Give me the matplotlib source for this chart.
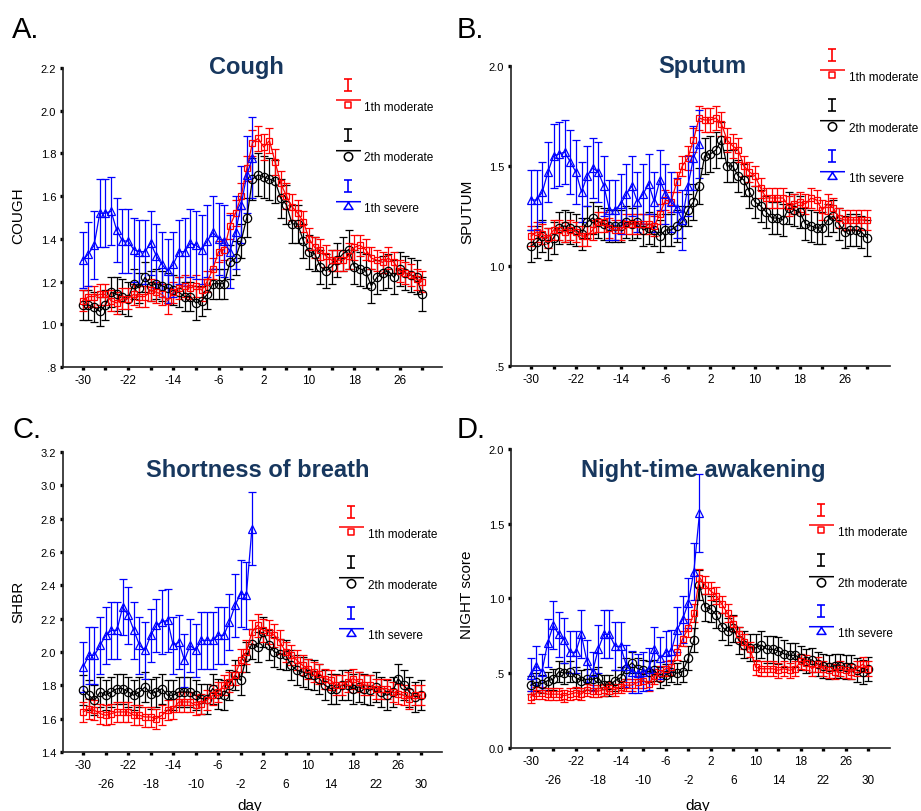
import numpy as np
import matplotlib
matplotlib.use('Agg')
import matplotlib.pyplot as plt
from matplotlib.path import Path

# Arial-metric font for everything
plt.rcParams['font.family'] = 'Liberation Sans'

# ---- data ----
days = np.arange(-30, 31)          # moderate groups, day -30..30
days_severe = np.arange(-30, 1)    # severe group, day -30..0

cough_red = [1.11, 1.13, 1.13, 1.14, 1.14, 1.11, 1.10, 1.12, 1.12, 1.14,
             1.13, 1.13, 1.16, 1.15, 1.14, 1.11, 1.15, 1.17, 1.18, 1.17,
             1.18, 1.16, 1.20, 1.26, 1.34, 1.35, 1.46, 1.52, 1.60, 1.73,
             1.85, 1.87, 1.83, 1.86, 1.76, 1.66, 1.60, 1.55, 1.52, 1.48,
             1.40, 1.36, 1.35, 1.32, 1.30, 1.30, 1.30, 1.32, 1.36, 1.37,
             1.35, 1.31, 1.30, 1.29, 1.31, 1.29, 1.25, 1.24, 1.23, 1.21,
             1.20]
cough_red_sd = [.05, .05, .05, .05, .05, .05, .05, .05, .05, .05,
                .05, .05, .05, .05, .05, .06, .05, .05, .05, .05,
                .05, .05, .05, .05, .05, .05, .06, .06, .06, .06,
                .06, .06, .06, .06, .06, .06, .06, .06, .06, .05,
                .05, .05, .05, .05, .05, .05, .05, .06, .06, .05,
                .05, .05, .05, .05, .05, .05, .05, .05, .05, .05,
                .05]
cough_black = [1.09, 1.09, 1.08, 1.06, 1.09, 1.15, 1.14, 1.13, 1.12, 1.19,
               1.17, 1.22, 1.18, 1.19, 1.18, 1.17, 1.16, 1.15, 1.13, 1.13,
               1.10, 1.11, 1.14, 1.19, 1.19, 1.19, 1.29, 1.31, 1.39, 1.50,
               1.68, 1.70, 1.69, 1.68, 1.67, 1.59, 1.56, 1.47, 1.47, 1.39,
               1.34, 1.33, 1.27, 1.25, 1.27, 1.30, 1.33, 1.35, 1.27, 1.26,
               1.25, 1.18, 1.22, 1.24, 1.25, 1.22, 1.26, 1.24, 1.23, 1.22,
               1.14]
cough_black_sd = [.07, .07, .07, .07, .07, .07, .08, .08, .08, .07,
                  .07, .07, .07, .07, .07, .07, .07, .07, .07, .07,
                  .08, .07, .07, .07, .07, .07, .08, .08, .08, .09,
                  .10, .10, .10, .10, .10, .09, .09, .09, .09, .08,
                  .08, .08, .08, .08, .08, .08, .08, .09, .08, .08,
                  .08, .08, .08, .08, .08, .08, .08, .08, .08, .08,
                  .08]
cough_blue = [1.30, 1.33, 1.37, 1.52, 1.52, 1.53, 1.44, 1.39, 1.39, 1.35,
              1.34, 1.34, 1.38, 1.32, 1.28, 1.25, 1.28, 1.34, 1.34, 1.38,
              1.37, 1.35, 1.39, 1.43, 1.40, 1.39, 1.34, 1.43, 1.56, 1.70,
              1.78]
cough_blue_sd = [.13, .15, .16, .16, .16, .16, .15, .15, .15, .15,
                 .15, .15, .15, .15, .15, .15, .15, .15, .16, .16,
                 .16, .16, .17, .17, .17, .17, .17, .17, .18, .18,
                 .19]

sputum_red = [1.15, 1.17, 1.16, 1.14, 1.18, 1.18, 1.17, 1.18, 1.17, 1.15,
              1.15, 1.18, 1.22, 1.22, 1.19, 1.18, 1.18, 1.21, 1.21, 1.21,
              1.21, 1.21, 1.20, 1.26, 1.33, 1.32, 1.42, 1.50, 1.54, 1.63,
              1.74, 1.73, 1.73, 1.74, 1.71, 1.63, 1.60, 1.58, 1.50, 1.47,
              1.45, 1.39, 1.34, 1.34, 1.34, 1.34, 1.30, 1.31, 1.32, 1.31,
              1.34, 1.33, 1.28, 1.31, 1.29, 1.24, 1.23, 1.23, 1.23, 1.23,
              1.23]
sputum_red_sd = [.05, .05, .05, .05, .05, .05, .05, .05, .05, .05,
                 .05, .05, .05, .05, .05, .05, .05, .05, .05, .05,
                 .05, .05, .05, .05, .05, .05, .05, .05, .06, .06,
                 .06, .06, .06, .06, .06, .06, .06, .06, .05, .05,
                 .05, .05, .05, .05, .05, .05, .05, .05, .05, .05,
                 .05, .05, .05, .05, .05, .05, .05, .05, .05, .05,
                 .05]
sputum_black = [1.10, 1.12, 1.15, 1.11, 1.14, 1.19, 1.20, 1.19, 1.18, 1.16,
                1.22, 1.24, 1.22, 1.21, 1.20, 1.20, 1.20, 1.22, 1.21, 1.22,
                1.18, 1.19, 1.18, 1.15, 1.18, 1.18, 1.20, 1.22, 1.28, 1.32,
                1.40, 1.55, 1.56, 1.58, 1.63, 1.50, 1.50, 1.45, 1.43, 1.37,
                1.32, 1.30, 1.27, 1.24, 1.24, 1.23, 1.29, 1.28, 1.27, 1.21,
                1.20, 1.19, 1.19, 1.23, 1.25, 1.21, 1.17, 1.18, 1.18, 1.17,
                1.14]
sputum_black_sd = [.08, .08, .08, .08, .08, .08, .08, .08, .08, .08,
                   .08, .08, .08, .08, .08, .08, .08, .08, .08, .08,
                   .08, .08, .08, .08, .08, .08, .08, .08, .08, .09,
                   .09, .09, .09, .09, .09, .08, .08, .08, .08, .08,
                   .08, .08, .08, .08, .08, .08, .08, .08, .08, .08,
                   .08, .08, .08, .08, .08, .08, .08, .08, .08, .08,
                   .09]
sputum_blue = [1.33, 1.33, 1.37, 1.47, 1.55, 1.56, 1.57, 1.52, 1.47, 1.37,
               1.45, 1.49, 1.47, 1.40, 1.28, 1.28, 1.31, 1.36, 1.40, 1.32,
               1.36, 1.41, 1.32, 1.43, 1.36, 1.32, 1.29, 1.23, 1.40, 1.54,
               1.61]
sputum_blue_sd = [.15, .15, .15, .15, .16, .16, .16, .16, .16, .15,
                  .15, .15, .15, .15, .15, .15, .15, .15, .15, .15,
                  .15, .15, .15, .15, .15, .15, .15, .15, .15, .16,
                  .17]

shbr_red = [1.64, 1.66, 1.65, 1.63, 1.62, 1.63, 1.64, 1.64, 1.64, 1.62,
            1.62, 1.61, 1.61, 1.60, 1.62, 1.65, 1.66, 1.70, 1.70, 1.70,
            1.68, 1.69, 1.71, 1.74, 1.76, 1.80, 1.82, 1.86, 1.95, 2.00,
            2.12, 2.16, 2.13, 2.12, 2.10, 2.06, 2.00, 1.98, 1.95, 1.92,
            1.90, 1.88, 1.87, 1.84, 1.83, 1.80, 1.80, 1.82, 1.84, 1.82,
            1.80, 1.80, 1.78, 1.78, 1.78, 1.76, 1.75, 1.74, 1.72, 1.74,
            1.74]
shbr_red_sd = [.06, .06, .06, .06, .06, .06, .06, .06, .06, .06,
               .06, .06, .06, .06, .06, .06, .06, .06, .06, .06,
               .06, .06, .06, .06, .06, .06, .06, .06, .07, .07,
               .07, .07, .07, .07, .07, .07, .06, .06, .06, .06,
               .06, .06, .06, .06, .06, .06, .06, .06, .06, .06,
               .06, .06, .06, .06, .06, .06, .06, .06, .06, .06,
               .06]
shbr_black = [1.77, 1.74, 1.71, 1.76, 1.74, 1.76, 1.78, 1.78, 1.76, 1.74,
              1.76, 1.79, 1.75, 1.76, 1.78, 1.74, 1.74, 1.76, 1.76, 1.76,
              1.74, 1.72, 1.72, 1.78, 1.75, 1.74, 1.80, 1.86, 1.83, 1.97,
              2.05, 2.03, 2.12, 2.04, 2.00, 1.99, 1.98, 1.92, 1.89, 1.88,
              1.87, 1.86, 1.84, 1.80, 1.78, 1.78, 1.80, 1.80, 1.78, 1.79,
              1.78, 1.77, 1.79, 1.76, 1.74, 1.76, 1.84, 1.80, 1.76, 1.73,
              1.74]
shbr_black_sd = [.09, .09, .09, .09, .09, .09, .09, .09, .09, .09,
                 .09, .09, .09, .09, .09, .09, .09, .09, .09, .09,
                 .09, .09, .09, .09, .09, .09, .09, .09, .09, .09,
                 .09, .09, .09, .09, .09, .09, .09, .09, .09, .09,
                 .09, .09, .09, .09, .09, .09, .09, .09, .09, .09,
                 .09, .09, .09, .09, .09, .09, .09, .09, .09, .09,
                 .09]
shbr_blue = [1.91, 1.98, 1.98, 2.04, 2.10, 2.13, 2.13, 2.27, 2.22, 2.13,
             2.04, 2.01, 2.10, 2.16, 2.18, 2.19, 2.04, 2.06, 1.95, 2.04,
             2.01, 2.07, 2.07, 2.07, 2.10, 2.10, 2.18, 2.28, 2.35, 2.34,
             2.74]
shbr_blue_sd = [.15, .17, .17, .17, .17, .17, .17, .17, .17, .17,
                .17, .17, .16, .16, .19, .19, .17, .16, .16, .16,
                .16, .17, .17, .17, .17, .17, .17, .19, .20, .20,
                .22]

night_red = [0.34, 0.37, 0.37, 0.36, 0.36, 0.36, 0.35, 0.36, 0.37, 0.36,
             0.39, 0.38, 0.38, 0.39, 0.40, 0.39, 0.41, 0.42, 0.42, 0.44,
             0.45, 0.43, 0.48, 0.50, 0.53, 0.54, 0.64, 0.73, 0.80, 0.90,
             1.14, 1.09, 1.05, 1.02, 0.96, 0.90, 0.83, 0.76, 0.71, 0.66,
             0.54, 0.53, 0.53, 0.53, 0.52, 0.53, 0.52, 0.53, 0.58, 0.57,
             0.53, 0.56, 0.53, 0.52, 0.51, 0.53, 0.52, 0.51, 0.53, 0.56,
             0.53]
night_red_sd = [.04, .04, .04, .04, .04, .04, .04, .04, .04, .04,
                .04, .04, .04, .04, .04, .04, .04, .04, .04, .04,
                .05, .05, .05, .05, .05, .05, .05, .05, .06, .06,
                .06, .06, .06, .06, .06, .06, .05, .05, .05, .05,
                .05, .05, .05, .05, .05, .05, .05, .05, .05, .05,
                .05, .05, .05, .05, .05, .05, .05, .05, .05, .05,
                .05]
night_black = [0.42, 0.44, 0.43, 0.45, 0.46, 0.51, 0.50, 0.51, 0.47, 0.45,
               0.46, 0.46, 0.47, 0.42, 0.42, 0.45, 0.47, 0.53, 0.57, 0.53,
               0.52, 0.51, 0.52, 0.47, 0.49, 0.51, 0.50, 0.51, 0.60, 0.72,
               1.09, 0.94, 0.93, 0.89, 0.81, 0.78, 0.80, 0.72, 0.69, 0.67,
               0.67, 0.69, 0.66, 0.66, 0.65, 0.63, 0.62, 0.62, 0.60, 0.58,
               0.59, 0.56, 0.55, 0.54, 0.55, 0.55, 0.54, 0.54, 0.52, 0.51,
               0.53]
night_black_sd = [.06, .06, .06, .06, .07, .07, .07, .07, .07, .07,
                  .07, .07, .07, .07, .07, .07, .07, .07, .07, .07,
                  .07, .07, .07, .07, .07, .07, .07, .07, .08, .08,
                  .10, .09, .09, .09, .09, .09, .09, .09, .09, .09,
                  .09, .09, .09, .09, .09, .09, .08, .08, .08, .08,
                  .08, .08, .08, .08, .08, .08, .08, .08, .08, .08,
                  .08]
night_blue = [0.49, 0.55, 0.51, 0.70, 0.82, 0.76, 0.72, 0.64, 0.64, 0.76,
              0.58, 0.51, 0.66, 0.76, 0.76, 0.68, 0.68, 0.55, 0.51, 0.50,
              0.51, 0.53, 0.66, 0.60, 0.64, 0.65, 0.79, 0.86, 0.97, 1.18,
              1.57]
night_blue_sd = [.11, .13, .12, .16, .16, .15, .15, .14, .14, .16,
                 .14, .13, .16, .16, .16, .16, .16, .14, .14, .13,
                 .13, .14, .15, .14, .14, .14, .15, .16, .17, .19,
                 .26]

series_labels = ['1th moderate', '2th moderate', '1th severe']
x_major = [-30, -22, -14, -6, 2, 10, 18, 26]
x_minor = [-26, -18, -10, -2, 6, 14, 22, 30]

cough_yticks = [0.8, 1.0, 1.2, 1.4, 1.6, 1.8, 2.0, 2.2]
cough_ylabels = ['.8', '1.0', '1.2', '1.4', '1.6', '1.8', '2.0', '2.2']
sputum_yticks = [0.5, 1.0, 1.5, 2.0]
sputum_ylabels = ['.5', '1.0', '1.5', '2.0']
shbr_yticks = [1.4, 1.6, 1.8, 2.0, 2.2, 2.4, 2.6, 2.8, 3.0, 3.2]
shbr_ylabels = ['1.4', '1.6', '1.8', '2.0', '2.2', '2.4', '2.6', '2.8', '3.0', '3.2']
night_yticks = [0.0, 0.5, 1.0, 1.5, 2.0]
night_ylabels = ['0.0', '.5', '1.0', '1.5', '2.0']

RED = '#ff0000'
BLACK = '#000000'
BLUE = '#0000ff'
NAVY = '#17375e'

M, L, C = Path.MOVETO, Path.LINETO, Path.CLOSEPOLY


def px_marker(path):
    # marker path given in pixel units; return path + markersize giving 1 unit = 1 px
    rescale = np.max(np.abs(path.vertices))
    return path, 2 * rescale * 0.72


def errbar_icon():
    v = [(-3.6, 1.7), (3.6, 1.7), (0, 1.7), (0, -9.5), (-3.6, -9.5), (3.6, -9.5)]
    return px_marker(Path(v, [M, L, M, L, M, L]))


def line_icon(kind):
    line = Path([(-12.5, 5.8), (12.5, 5.8)], [M, L])
    if kind == 's':
        shape = Path([(-3.4, -2.3), (3.4, -2.3), (3.4, 4.4), (-3.4, 4.4), (0, 0)],
                     [M, L, L, L, C])
    elif kind == 'o':
        shape = Path.circle((0, -0.3), 4.2)
    else:
        shape = Path([(0, 5.0), (4.5, -1.9), (-4.5, -1.9), (0, 0)], [M, L, L, C])
    return px_marker(Path.make_compound_path(line, shape))


def legend_handles():
    handles = []
    for col, kind in [(RED, 's'), (BLACK, 'o'), (BLUE, '^')]:
        mk, ms = errbar_icon()
        handles.append(plt.Line2D([], [], ls='None', marker=mk, ms=ms, mfc='none',
                                  mec=col, mew=1.2))
        mk, ms = line_icon(kind)
        handles.append(plt.Line2D([], [], ls='None', marker=mk, ms=ms, mfc='none',
                                  mec=col, mew=1.1))
    labels = ['', series_labels[0], '', series_labels[1], '', series_labels[2]]
    return handles, labels


def draw(ax, x, y, sd, color, marker, ms):
    ax.errorbar(x, y, yerr=sd, color=color, marker=marker, ms=ms, mfc='none',
                mec=color, mew=0.9, lw=0.9, elinewidth=0.9, capsize=3,
                capthick=0.9)


fig = plt.figure(figsize=(9.21, 8.12), dpi=100)

panels = [
    dict(rect=[0.0684, 0.5468, 0.4115, 0.3682], xlim=(-33.5, 33.5), ylim=(0.8, 2.2),
         yt=cough_yticks, ytl=cough_ylabels, ylabel='COUGH', ylab_pos=(-0.119, 0.51),
         title='Cough', title_pos=(0.485, 0.983), leg=(0.718, 0.974),
         data=(cough_red, cough_red_sd, cough_black, cough_black_sd, cough_blue, cough_blue_sd),
         second_row=False, letter='A.', letter_pos=(12, 38)),
    dict(rect=[0.5548, 0.5480, 0.4115, 0.3695], xlim=(-33.6, 34.1), ylim=(0.5, 2.0),
         yt=sputum_yticks, ytl=sputum_ylabels, ylabel='SPUTUM', ylab_pos=(-0.116, 0.517),
         title='Sputum', title_pos=(0.504, 0.979), leg=(0.815, 1.067),
         data=(sputum_red, sputum_red_sd, sputum_black, sputum_black_sd, sputum_blue, sputum_blue_sd),
         second_row=False, letter='B.', letter_pos=(457, 38)),
    dict(rect=[0.0684, 0.0727, 0.4115, 0.3695], xlim=(-33.6, 33.8), ylim=(1.4, 3.2),
         yt=shbr_yticks, ytl=shbr_ylabels, ylabel='SHBR', ylab_pos=(-0.119, 0.504),
         title='Shortness of breath', title_pos=(0.515, 0.921), leg=(0.728, 0.83),
         data=(shbr_red, shbr_red_sd, shbr_black, shbr_black_sd, shbr_blue, shbr_blue_sd),
         second_row=True, xlab_pos=(0.493, -0.177), letter='C.', letter_pos=(12, 438)),
    dict(rect=[0.5548, 0.0776, 0.4115, 0.3682], xlim=(-33.5, 33.85), ylim=(0.0, 2.0),
         yt=night_yticks, ytl=night_ylabels, ylabel='NIGHT score', ylab_pos=(-0.116, 0.515),
         title='Night-time awakening', title_pos=(0.507, 0.909), leg=(0.786, 0.826),
         data=(night_red, night_red_sd, night_black, night_black_sd, night_blue, night_blue_sd),
         second_row=True, xlab_pos=(0.493, -0.19), letter='D.', letter_pos=(457, 438)),
]

for p in panels:
    ax = fig.add_axes(p['rect'])
    red, red_sd, black, black_sd, blue, blue_sd = p['data']
    draw(ax, days, black, black_sd, BLACK, 'o', 6.0)
    draw(ax, days, red, red_sd, RED, 's', 4.8)
    draw(ax, days_severe, blue, blue_sd, BLUE, '^', 5.2)

    ax.set_xlim(*p['xlim'])
    ax.set_ylim(*p['ylim'])
    for side in ['top', 'right']:
        ax.spines[side].set_visible(False)
    for side in ['left', 'bottom']:
        ax.spines[side].set_linewidth(1.2)
        ax.spines[side].set_color('#222222')

    ax.set_yticks(p['yt'])
    ax.set_yticklabels(p['ytl'])
    ax.set_xticks(x_major)
    ax.set_xticklabels([str(v) for v in x_major])
    ax.set_xticks(x_minor, minor=True)
    if p['second_row']:
        ax.set_xticklabels([str(v) for v in x_minor], minor=True)
    ax.tick_params(axis='both', which='both', direction='out', length=2.4, width=2.4,
                   color='black', labelsize=8.5)
    ax.tick_params(axis='x', which='major', pad=2.5)
    ax.tick_params(axis='x', which='minor', pad=16.5)
    ax.tick_params(axis='y', which='both', pad=2.5, labelsize=8)

    ax.set_ylabel(p['ylabel'], fontsize=11, va='center')
    ax.yaxis.set_label_coords(*p['ylab_pos'])
    if p['second_row']:
        ax.set_xlabel('day', fontsize=11, va='center')
        ax.xaxis.set_label_coords(*p['xlab_pos'])

    ax.text(p['title_pos'][0], p['title_pos'][1], p['title'], transform=ax.transAxes,
            ha='center', va='baseline', fontsize=17, fontweight='bold', color=NAVY)

    h, lab = legend_handles()
    ax.legend(h, lab, loc='upper left', bbox_to_anchor=p['leg'], frameon=False,
              fontsize=8.5, numpoints=1, handlelength=2.12, handletextpad=0.33,
              labelspacing=1.12, borderpad=0, borderaxespad=0)

    fig.text(p['letter_pos'][0] / 921, 1 - p['letter_pos'][1] / 812, p['letter'],
             fontsize=21, va='baseline', ha='left')

fig.savefig('out.png', dpi=100)
